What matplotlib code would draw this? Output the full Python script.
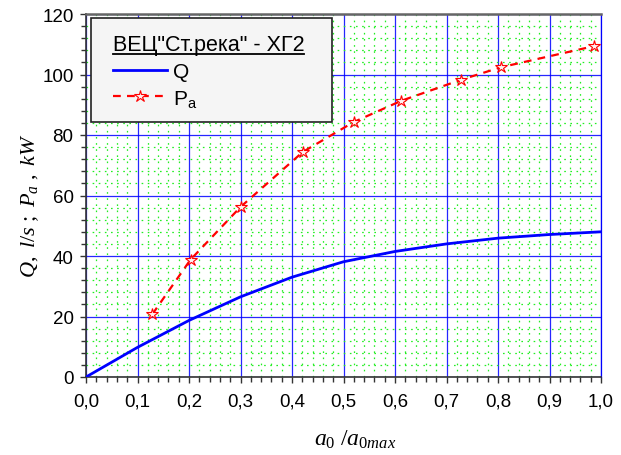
#!/usr/bin/env python3
import matplotlib
matplotlib.use("Agg")
from matplotlib import pyplot as plt
from matplotlib.lines import Line2D
from matplotlib.patches import Rectangle
import numpy as np

# discharge Q vs relative opening
q_x = [0.0, 0.1, 0.2, 0.3, 0.4, 0.5, 0.6, 0.7, 0.8, 0.9, 1.0]
q_y = [0.0, 9.8, 18.7, 26.5, 33.0, 38.1, 41.5, 44.0, 45.9, 47.1, 48.0]

# power Pa, measured points
pa_x = [0.129, 0.203, 0.300, 0.421, 0.520, 0.612, 0.729, 0.806, 0.987]
pa_y = [20.8, 38.8, 56.2, 74.4, 84.3, 91.3, 98.3, 102.4, 109.4]

xticks = [0.0, 0.1, 0.2, 0.3, 0.4, 0.5, 0.6, 0.7, 0.8, 0.9, 1.0]
xticklabels = ['0,0', '0,1', '0,2', '0,3', '0,4', '0,5', '0,6', '0,7', '0,8', '0,9', '1,0']
yticks = [0, 20, 40, 60, 80, 100, 120]

legend_title = 'ВЕЦ"Ст.река" - ХГ2'

plt.rcParams['font.family'] = ['Liberation Sans', 'DejaVu Sans']
plt.rcParams['mathtext.fontset'] = 'custom'
plt.rcParams['mathtext.rm'] = 'Liberation Serif'
plt.rcParams['mathtext.it'] = 'Liberation Serif:italic'
plt.rcParams['mathtext.sf'] = 'Liberation Sans'

fig = plt.figure(figsize=(6.21, 4.56), dpi=100)
ax = fig.add_axes([86 / 621, 1 - 378 / 456, 515 / 621, 363 / 456])

ax.plot(q_x, q_y, color='#0000ff', lw=2.0, label='Q', zorder=5)
ax.plot(pa_x, pa_y, color='#ff0000', lw=1.6, ls=(0, (3.5, 2.8)), marker='*',
        ms=9, mfc='#fff0f0', mec='#ff0000', mew=0.8,
        label=r'P$_{\mathsf{a}}$', zorder=6)

ax.set_xlim(0, 1.0)
ax.set_ylim(0, 120)
ax.set_xticks(xticks)
ax.set_xticklabels(xticklabels)
ax.set_yticks(yticks)
ax.set_xticks(np.arange(0, 1.0001, 0.02), minor=True)
ax.set_yticks(np.arange(0, 120.1, 4), minor=True)

ax.grid(which='minor', color='#22ee22', lw=0.9, ls=(0, (1.3, 3.6)))
ax.grid(which='major', color='#0000ff', lw=0.9, ls='-', alpha=0.85)
ax.set_axisbelow(True)

ax.tick_params(which='major', direction='out', length=4, width=1, color='#333333',
               labelsize=13.5, pad=5)
ax.tick_params(axis='x', which='major', pad=7)
ax.tick_params(which='minor', direction='out', length=3.5, width=1, color='#333333')

for side in ['left', 'bottom']:
    ax.spines[side].set_color('#333333')
    ax.spines[side].set_linewidth(1.2)
ax.spines['top'].set_color('#666666')
ax.spines['top'].set_linewidth(1.8)
ax.spines['right'].set_color('#0000ff')
ax.spines['right'].set_linewidth(0.9)

ax.set_ylabel(r'$Q,\ l/s\ ;\ P_a\ ,\ kW$', fontsize=16)
ax.yaxis.set_label_coords(-0.088, 0.475)
ax.set_xlabel(r'$a_0\ /a_{0max}$', fontsize=17)
ax.xaxis.set_label_coords(0.523, -0.14)

# legend box drawn by hand, legend content placed inside it
ax.add_patch(Rectangle((0.01, 0.702), 0.468, 0.287, transform=ax.transAxes,
                       facecolor='#f5f5f5', edgecolor='#222222', lw=1.2, zorder=9))
leg = ax.legend(loc='upper left', bbox_to_anchor=(0.052, 0.944), title=legend_title,
                title_fontsize=15.5, fontsize=15, handlelength=2.6, handletextpad=0.3,
                labelspacing=0.32, borderpad=0, borderaxespad=0, frameon=False,
                alignment='left')
leg.set_zorder(10)

# underline the legend title
fig.canvas.draw()
bb = leg.get_title().get_window_extent().transformed(fig.transFigure.inverted())
fig.add_artist(Line2D([bb.x0, bb.x1], [bb.y0 + 0.003, bb.y0 + 0.003],
                      transform=fig.transFigure, color='black', lw=1.3, zorder=20))

fig.savefig('out.png', dpi=100)
